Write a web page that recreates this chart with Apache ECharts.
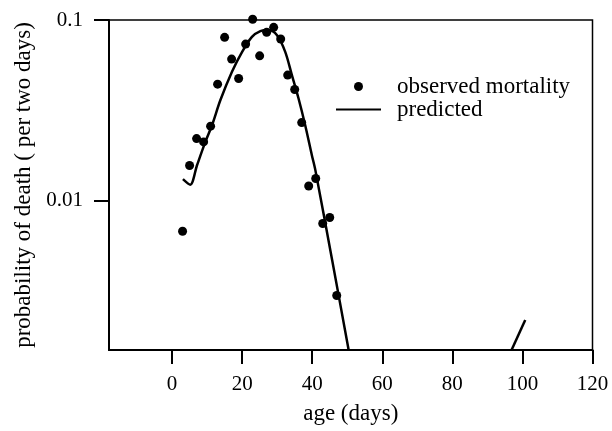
<!DOCTYPE html>
<html>
<head>
<meta charset="utf-8">
<script src="https://cdn.jsdelivr.net/npm/echarts@6/dist/echarts.min.js"></script>
<style>
  html, body { margin: 0; padding: 0; background: #fff; }
  #chart { width: 612px; height: 431px; }
</style>
</head>
<body>
<div id="chart"></div>
<script>
// observed mortality (per two days)
const obsAge = [3, 5, 7, 9, 11, 13, 15, 17, 19, 21, 23, 25, 27, 29, 31, 33, 35, 37, 39, 41, 43, 45, 47];
const obsRate = [0.0068, 0.0157, 0.0221, 0.0212, 0.0259, 0.0442, 0.0802, 0.0608, 0.0475, 0.0736, 0.101, 0.0634,
  0.0855, 0.0911, 0.0785, 0.0496, 0.0413, 0.0271, 0.0121, 0.0133, 0.0075, 0.0081, 0.0030];

// predicted curve
const predAge = [3.1, 5.2, 7.1, 9.5, 11.4, 13.8, 17.1, 20.0, 22.8, 25.2, 27.6, 29.9, 32.3, 34.2, 36.1, 38.0, 39.9, 40.9, 45.7, 50.4];
const predRate = [0.0132, 0.0123, 0.0157, 0.0212, 0.0262, 0.0361, 0.0518, 0.0667, 0.0807, 0.0869, 0.0881, 0.0826,
  0.0667, 0.0496, 0.0368, 0.0262, 0.0179, 0.0148, 0.0047, 0.0015];
// stray piece of the predicted line near day 100
const tailAge = [96.9, 100.8];
const tailRate = [0.0015, 0.0022];

const xMin = -18, xMax = 120, xStep = 20;
const yTicks = [0.01, 0.1];

const font = 'Liberation Serif';
const black = '#000';

const zip = (a, b) => a.map((v, i) => [v, b[i]]);

// plot box
const gLeft = 109, gRight = 19.5, gTop = 20, gBottom = 81;
const tickLen = 14;
const plotW = 612 - gLeft - gRight;
// tick strip under the plot, starting where age 0 sits on the main axis
const zeroLeft = gLeft + (0 - xMin) / (xMax - xMin) * plotW;

const chart = echarts.init(document.getElementById('chart'));

const option = {
  animation: false,
  textStyle: { fontFamily: font, color: black },
  grid: [
    { left: gLeft, right: gRight, top: gTop, bottom: gBottom, show: true, borderColor: black, borderWidth: 1.5 },
    { left: zeroLeft, right: gRight, top: 431 - gBottom, bottom: gBottom - tickLen, show: false }
  ],
  legend: {
    orient: 'vertical',
    left: 330,
    top: 70,
    itemWidth: 45,
    itemHeight: 9,
    itemGap: 0,
    textStyle: { fontFamily: font, fontSize: 23, color: black, padding: [0, 0, 0, 11] },
    data: [
      { name: 'observed mortality', icon: 'circle' },
      { name: 'predicted', itemStyle: { opacity: 0 } }
    ]
  },
  xAxis: [
    {
      type: 'value',
      gridIndex: 0,
      min: xMin,
      max: xMax,
      name: 'age (days)',
      nameLocation: 'middle',
      nameGap: 52,
      nameTextStyle: { fontFamily: font, fontSize: 23, color: black },
      splitLine: { show: false },
      axisLine: { onZero: false, lineStyle: { color: black, width: 2 } },
      axisTick: { show: false },
      axisLabel: { show: false }
    },
    {
      // tick marks (as split lines of the strip) and tick labels
      type: 'value',
      gridIndex: 1,
      min: 0,
      max: xMax,
      interval: xStep,
      splitLine: { show: true, lineStyle: { color: black, width: 2 } },
      axisLine: { show: false, onZero: false },
      axisTick: { show: false },
      axisLabel: { margin: 10, fontFamily: font, fontSize: 21, color: black }
    }
  ],
  yAxis: [
    {
      type: 'log',
      gridIndex: 0,
      logBase: 10,
      min: 0.0015,
      max: 0.1,
      name: 'probability of death ( per two days)',
      nameLocation: 'middle',
      nameGap: 64,
      nameTextStyle: { fontFamily: font, fontSize: 23, color: black },
      splitLine: { show: false },
      axisLine: { onZero: false, lineStyle: { color: black, width: 2 } },
      axisTick: { show: true, inside: false, length: 15, customValues: yTicks.slice(), lineStyle: { color: black, width: 2 } },
      axisLabel: {
        customValues: yTicks.slice(),
        margin: 26,
        fontFamily: font,
        fontSize: 21,
        color: black,
        formatter: v => String(+v.toPrecision(3))
      }
    },
    {
      type: 'value',
      gridIndex: 1,
      min: 0,
      max: 1,
      show: false
    }
  ],
  series: [
    {
      name: 'observed mortality',
      type: 'scatter',
      symbol: 'circle',
      symbolSize: 9,
      clip: false,
      itemStyle: { color: black, opacity: 1 },
      data: zip(obsAge, obsRate)
    },
    {
      name: 'predicted',
      type: 'line',
      symbol: 'none',
      smooth: 0.3,
      lineStyle: { color: black, width: 2.5 },
      itemStyle: { color: black },
      data: zip(predAge, predRate)
    },
    {
      name: 'predicted',
      type: 'line',
      symbol: 'none',
      lineStyle: { color: black, width: 2.5 },
      itemStyle: { color: black },
      data: zip(tailAge, tailRate)
    }
  ]
};

chart.setOption(option);
</script>
</body>
</html>
